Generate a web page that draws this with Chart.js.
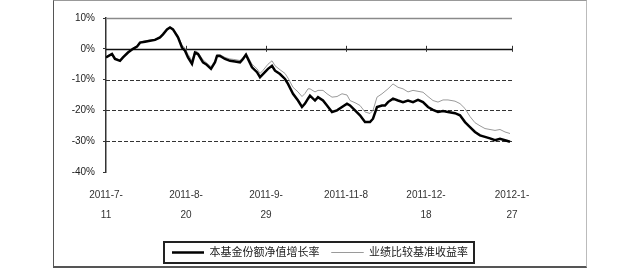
<!DOCTYPE html>
<html>
<head>
<meta charset="utf-8">
<script src="https://cdn.jsdelivr.net/npm/chart.js@4/dist/chart.umd.min.js"></script>
<style>
  body { margin: 0; background: #fff; }
  #frame {
    position: absolute; left: 53px; top: 0; width: 534px; height: 268px;
    box-sizing: border-box; border: 1px solid #555; border-top-color: #999; border-right-color: #bbb;
    border-bottom-width: 2px;
  }
  #box { position: absolute; left: 0; top: 0; width: 532px; height: 269px; }
</style>
</head>
<body>
<div id="frame"><div id="box"><canvas id="chart"></canvas></div></div>
<script>
// days since 2011-7-11
const days = [0,3,4.5,7,8.5,11,13.5,15.5,17,19.5,22,24.5,27,28.5,30.5,32,33.5,36,38,39.5,
  41,43,44.5,46,48.5,50,52.5,54.5,55.5,57,59.5,62,64.5,67,68.5,70,71,73,75.5,77,
  78.5,81,83,84.5,87,89.5,91,93.5,96,98,99.5,101,102,104.5,106,108.5,110.5,113,115.5,118,
  120.5,122,124.5,127,129.5,132,133.5,135.5,138,139.5,141,143.5,146,148.5,151,153.5,156,158.5,161,163.5,
  166,168.5,171,174.5,177,179.5,182,184.5,187,189.5,192,194.5,197,199.5,202];

const fundReturn = [-2.8,-1.7,-3.3,-3.9,-2.8,-1.2,0,0.7,2.0,2.3,2.6,2.9,3.7,4.7,6.3,6.9,6.3,3.7,0.4,-0.6,
  -2.8,-4.9,-1.2,-1.7,-4.4,-5.0,-6.5,-4.4,-2.3,-2.3,-3.3,-3.9,-4.1,-4.4,-3.3,-1.9,-3.3,-6.0,-7.6,-9.2,
  -8.2,-6.5,-5.5,-7.1,-8.2,-9.8,-11.4,-14.6,-16.8,-18.9,-17.8,-16.2,-15.2,-16.8,-15.7,-16.8,-18.4,-20.5,-20.0,-18.9,
  -17.8,-18.4,-20.0,-21.6,-23.8,-23.8,-22.7,-18.9,-18.4,-18.4,-17.3,-16.2,-16.8,-17.3,-16.8,-17.3,-16.6,-17.3,-18.9,-19.8,
  -20.5,-20.2,-20.5,-20.9,-21.6,-23.8,-25.4,-27.0,-28.1,-28.6,-29.1,-29.7,-29.2,-29.7,-30.2];

const benchReturn = [-2.5,-1.5,-3.0,-3.6,-2.6,-1.0,0.2,1.0,2.2,2.6,2.8,3.1,3.8,4.8,6.4,7.0,6.5,4.2,1.2,0.2,
  -1.8,-3.8,-0.6,-1.2,-3.6,-4.4,-5.8,-3.8,-1.8,-1.9,-2.8,-3.3,-3.5,-3.8,-2.8,-1.5,-2.6,-5.0,-6.5,-8.0,
  -7.0,-5.0,-3.9,-5.5,-6.8,-8.0,-9.5,-12.5,-14.0,-15.5,-14.5,-13.0,-13.0,-14.0,-13.5,-13.5,-14.6,-15.7,-15.5,-14.6,
  -15.0,-16.8,-17.5,-18.4,-20.5,-21.0,-20.0,-15.7,-14.6,-13.8,-13.0,-11.4,-12.5,-13.0,-14.0,-13.5,-13.8,-14.1,-15.5,-16.8,
  -17.3,-16.6,-16.6,-17.0,-17.8,-19.4,-22.0,-24.0,-25.0,-25.9,-26.2,-26.5,-26.2,-27.0,-27.5];

const xTickLabels = [["2011-7-", "11"], ["2011-8-", "20"], ["2011-9-", "29"], ["2011-11-8"], ["2011-12-", "18"], ["2012-1-", "27"]];
const yTicks = [10, 0, -10, -20, -30, -40];
const seriesNames = ["本基金份额净值增长率", "业绩比较基准收益率"];

const font = "'Liberation Sans', 'Noto Sans CJK SC', sans-serif";

// horizontal grid lines, zero axis ticks, legend frame
const decor = {
  id: "decor",
  beforeDatasetsDraw(chart) {
    const { ctx, chartArea: a, scales: { x, y } } = chart;
    ctx.save();
    yTicks.forEach(v => {
      if (v === -40) return;
      const py = Math.round(y.getPixelForValue(v)) + 0.5;
      ctx.beginPath();
      if (v === 0) { ctx.strokeStyle = "#111"; ctx.lineWidth = 1.5; ctx.setLineDash([]); }
      else if (v === 10) { ctx.strokeStyle = "#8a8a8a"; ctx.lineWidth = 1.5; ctx.setLineDash([]); }
      else { ctx.strokeStyle = "#333"; ctx.lineWidth = 1.2; ctx.setLineDash([4, 2]); }
      ctx.moveTo(a.left, py);
      ctx.lineTo(a.right, py);
      ctx.stroke();
    });
    ctx.setLineDash([]);
    ctx.strokeStyle = "#333";
    ctx.lineWidth = 1;
    const y0 = y.getPixelForValue(0);
    x.ticks.forEach(t => {
      const px = Math.round(x.getPixelForValue(t.value)) + 0.5;
      if (px <= a.left + 1) return;
      ctx.beginPath();
      ctx.moveTo(px, y0 - 3);
      ctx.lineTo(px, y0 + 3);
      ctx.stroke();
    });
    ctx.restore();
  },
  afterDraw(chart) {
    const boxes = chart.legend.legendHitBoxes;
    if (!boxes || !boxes.length) return;
    const ctx = chart.ctx;
    const l = Math.min(...boxes.map(b => b.left)) - 8;
    const r = Math.max(...boxes.map(b => b.left + b.width)) + 6;
    const t = Math.min(...boxes.map(b => b.top)) - 5;
    const btm = Math.max(...boxes.map(b => b.top + b.height)) + 5;
    ctx.save();
    ctx.strokeStyle = "#222";
    ctx.lineWidth = 2;
    ctx.strokeRect(l, t, r - l, btm - t);
    ctx.restore();
  }
};

new Chart(document.getElementById("chart"), {
  type: "line",
  data: {
    datasets: [
      {
        label: seriesNames[0],
        data: days.map((d, i) => ({ x: d, y: fundReturn[i] })),
        borderColor: "#000",
        borderWidth: 2.5,
        pointRadius: 0,
        tension: 0
      },
      {
        label: seriesNames[1],
        data: days.map((d, i) => ({ x: d, y: benchReturn[i] })),
        borderColor: "#9a9a9a",
        borderWidth: 1,
        pointRadius: 0,
        tension: 0
      }
    ]
  },
  options: {
    responsive: true,
    maintainAspectRatio: false,
    animation: false,
    layout: { padding: { top: 17, left: 0, right: 0, bottom: 2 } },
    scales: {
      x: {
        type: "linear",
        min: 0,
        max: 203,
        afterFit: s => { s.height += 5; },
        grid: { display: false },
        border: { display: false },
        ticks: {
          stepSize: 40,
          padding: 5,
          maxRotation: 0,
          autoSkip: false,
          color: "#333",
          font: { family: font, size: 10, lineHeight: 2 },
          callback: (v, i) => xTickLabels[i]
        }
      },
      y: {
        min: -40,
        max: 10,
        afterFit: s => { s.width = 52; },
        grid: { drawOnChartArea: false, drawTicks: true, tickLength: 3, color: "#333" },
        border: { display: true, color: "#333", width: 1.5 },
        ticks: {
          stepSize: 10,
          padding: 8,
          color: "#222",
          font: { family: font, size: 10 },
          callback: v => v + "%"
        }
      },
      yr: {
        position: "right",
        min: -40,
        max: 10,
        afterFit: s => { s.width = 74; },
        grid: { display: false },
        border: { display: false },
        ticks: { display: false }
      }
    },
    plugins: {
      legend: {
        position: "bottom",
        labels: {
          boxWidth: 32,
          boxHeight: 0,
          padding: 12,
          color: "#222",
          font: { family: font, size: 11 }
        }
      },
      tooltip: { enabled: false }
    }
  },
  plugins: [decor]
});
</script>
</body>
</html>
